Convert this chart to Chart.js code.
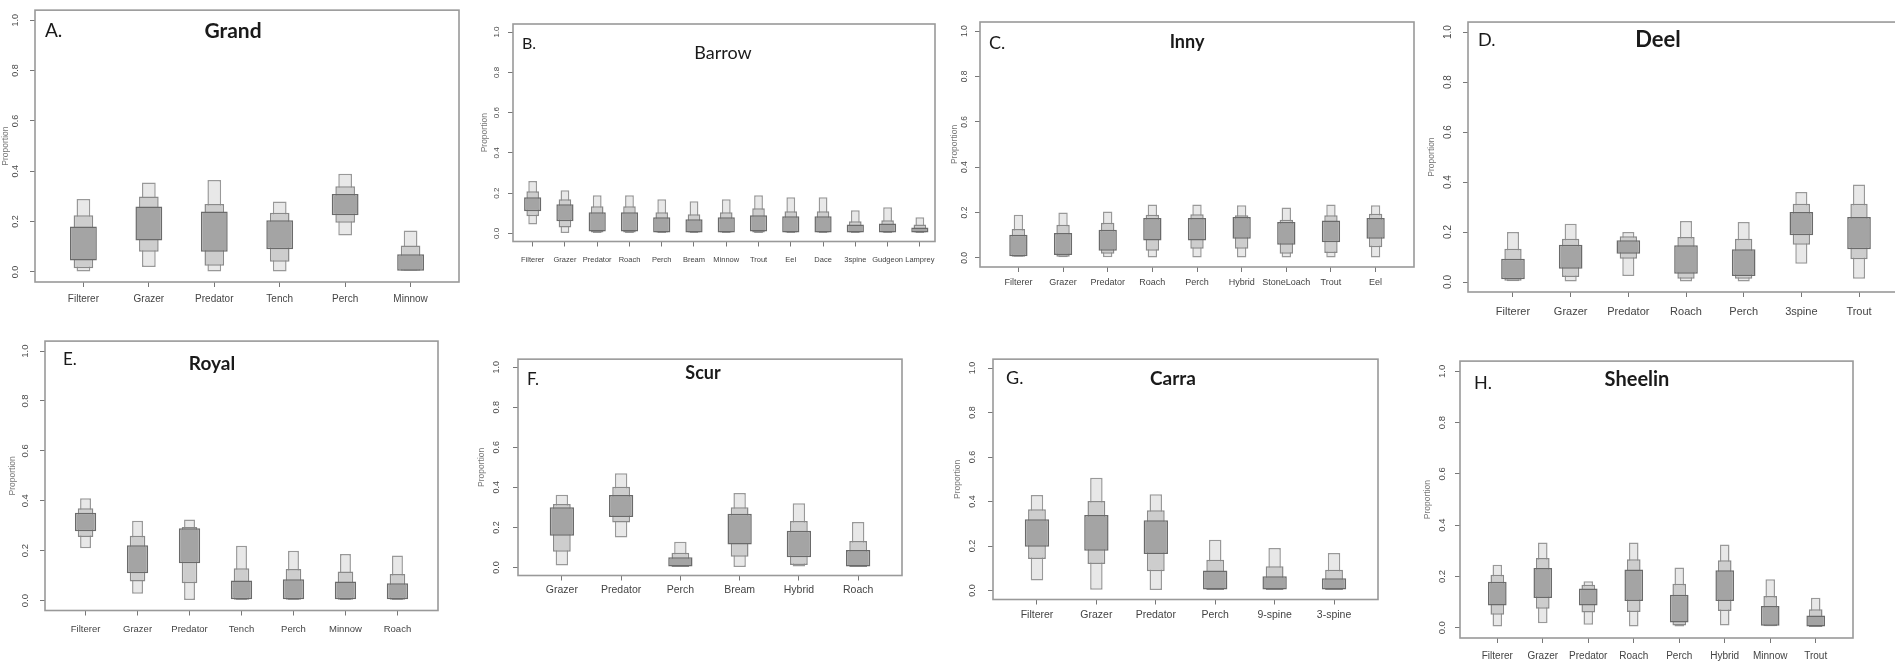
<!DOCTYPE html>
<html lang="en">
<head>
<meta charset="UTF-8">
<title>Diet proportions by lake</title>
<script src="https://cdn.jsdelivr.net/npm/chart.js"></script>
<style>
  body { margin: 0; width: 1895px; height: 662px; overflow: hidden; background: #fff; position: relative; }
  canvas { position: absolute; }
  .tag, .name { position: absolute; font-family: Lato, "Open Sans", sans-serif; color: #1a1a1a; line-height: 1; white-space: nowrap; }
  .tag { transform: translateY(-50%); }
  .name { transform: translate(-50%, -50%); font-weight: bold; }
</style>
</head>
<body>
<script>
// proportions, [low, high] of the 95%, 75% and 50% credible intervals
const grandCats = ['Filterer', 'Grazer', 'Predator', 'Tench', 'Perch', 'Minnow'];
const grand95 = [[0.0, 0.29], [0.02, 0.355], [0.0, 0.365], [0.0, 0.28], [0.145, 0.39], [0.005, 0.165]];
const grand75 = [[0.015, 0.225], [0.08, 0.3], [0.025, 0.27], [0.04, 0.235], [0.195, 0.34], [0.005, 0.105]];
const grand50 = [[0.045, 0.18], [0.125, 0.26], [0.08, 0.24], [0.09, 0.205], [0.225, 0.31], [0.005, 0.07]];

const barrowCats = ['Filterer', 'Grazer', 'Predator', 'Roach', 'Perch', 'Bream', 'Minnow', 'Trout', 'Eel', 'Dace', '3spine', 'Gudgeon', 'Lamprey'];
const barrow95 = [[0.045, 0.26], [0.0, 0.215], [0, 0.19], [0, 0.19], [0, 0.17], [0, 0.16], [0, 0.17], [0, 0.19], [0, 0.18], [0, 0.18], [0, 0.115], [0, 0.13], [0, 0.08]];
const barrow75 = [[0.085, 0.21], [0.03, 0.17], [0.005, 0.135], [0.005, 0.135], [0.005, 0.105], [0.005, 0.095], [0.005, 0.105], [0.005, 0.125], [0.005, 0.11], [0.005, 0.11], [0.005, 0.06], [0.005, 0.065], [0.005, 0.045]];
const barrow50 = [[0.11, 0.18], [0.06, 0.145], [0.01, 0.105], [0.01, 0.105], [0.005, 0.08], [0.005, 0.07], [0.005, 0.08], [0.01, 0.09], [0.005, 0.085], [0.005, 0.085], [0.005, 0.045], [0.005, 0.05], [0.005, 0.03]];

const innyCats = ['Filterer', 'Grazer', 'Predator', 'Roach', 'Perch', 'Hybrid', 'StoneLoach', 'Trout', 'Eel'];
const inny95 = [[0.005, 0.19], [0.003, 0.2], [0.003, 0.205], [0, 0.235], [0, 0.235], [0, 0.232], [0, 0.222], [0, 0.235], [0, 0.232]];
const inny75 = [[0.005, 0.128], [0.005, 0.146], [0.018, 0.155], [0.032, 0.19], [0.04, 0.193], [0.04, 0.188], [0.018, 0.168], [0.022, 0.188], [0.047, 0.195]];
const inny50 = [[0.007, 0.102], [0.013, 0.11], [0.032, 0.124], [0.077, 0.176], [0.077, 0.176], [0.084, 0.18], [0.058, 0.158], [0.069, 0.165], [0.084, 0.176]];

const deelCats = ['Filterer', 'Grazer', 'Predator', 'Roach', 'Perch', '3spine', 'Trout'];
const deel95 = [[0.003, 0.2], [0, 0.233], [0.024, 0.2], [0, 0.244], [0, 0.24], [0.073, 0.36], [0.013, 0.39]];
const deel75 = [[0.005, 0.133], [0.02, 0.173], [0.093, 0.183], [0.013, 0.18], [0.013, 0.173], [0.149, 0.313], [0.091, 0.313]];
const deel50 = [[0.011, 0.093], [0.053, 0.149], [0.113, 0.167], [0.033, 0.147], [0.024, 0.131], [0.187, 0.28], [0.131, 0.26]];

const royalCats = ['Filterer', 'Grazer', 'Predator', 'Tench', 'Perch', 'Minnow', 'Roach'];
const royal95 = [[0.21, 0.41], [0.027, 0.32], [0, 0.325], [0, 0.22], [0, 0.2], [0, 0.186], [0, 0.18]];
const royal75 = [[0.255, 0.37], [0.076, 0.26], [0.069, 0.295], [0.003, 0.129], [0.003, 0.126], [0.003, 0.116], [0.003, 0.106]];
const royal50 = [[0.278, 0.352], [0.109, 0.222], [0.149, 0.29], [0.005, 0.08], [0.005, 0.085], [0.005, 0.076], [0.005, 0.069]];

const scurCats = ['Grazer', 'Predator', 'Perch', 'Bream', 'Hybrid', 'Roach'];
const scur95 = [[0.01, 0.363], [0.15, 0.47], [0, 0.128], [0, 0.372], [0.005, 0.321], [0, 0.227]];
const scur75 = [[0.079, 0.317], [0.224, 0.403], [0.003, 0.074], [0.054, 0.301], [0.013, 0.232], [0.003, 0.132]];
const scur50 = [[0.158, 0.301], [0.252, 0.362], [0.005, 0.051], [0.115, 0.268], [0.051, 0.184], [0.005, 0.087]];

const carraCats = ['Filterer', 'Grazer', 'Predator', 'Perch', '9-spine', '3-spine'];
const carra95 = [[0.045, 0.43], [0.004, 0.507], [0, 0.433], [0, 0.228], [0, 0.191], [0, 0.169]];
const carra75 = [[0.142, 0.366], [0.119, 0.403], [0.087, 0.361], [0.003, 0.139], [0.003, 0.109], [0.003, 0.094]];
const carra50 = [[0.197, 0.321], [0.179, 0.34], [0.164, 0.316], [0.005, 0.09], [0.005, 0.064], [0.005, 0.055]];

const sheelinCats = ['Filterer', 'Grazer', 'Predator', 'Roach', 'Perch', 'Hybrid', 'Minnow', 'Trout'];
const sheelin95 = [[0.005, 0.246], [0.018, 0.332], [0.012, 0.181], [0.005, 0.332], [0.005, 0.235], [0.009, 0.325], [0.006, 0.189], [0.003, 0.117]];
const sheelin75 = [[0.051, 0.207], [0.074, 0.272], [0.059, 0.168], [0.061, 0.267], [0.009, 0.172], [0.065, 0.263], [0.006, 0.124], [0.003, 0.072]];
const sheelin50 = [[0.087, 0.179], [0.116, 0.233], [0.087, 0.153], [0.104, 0.227], [0.02, 0.129], [0.104, 0.224], [0.008, 0.085], [0.005, 0.048]];

const yTicks = [0, 0.2, 0.4, 0.6, 0.8, 1.0];

// layout of each panel: plot box [left, top, right, bottom] and label offsets
const panels = [
  { tag: 'A.', name: 'Grand', cats: grandCats, q95: grand95, q75: grand75, q50: grand50,
    box: [35, 9, 459, 282], yLab: 19, pLab: 29, xLab: 17, xFont: 10, yFont: 9,
    tagAt: [45, 29], tagSize: 19, nameAt: [233, 29], nameSize: 21 },
  { tag: 'B.', name: 'Barrow', cats: barrowCats, q95: barrow95, q75: barrow75, q50: barrow50,
    box: [513, 24, 935, 242], yLab: 16, pLab: 28, xLab: 18, xFont: 7.5, yFont: 8,
    xMin: 0.39, xMax: 13.47, boxScale: 1.3, nameWeight: 'normal',
    tagAt: [522, 43], tagSize: 16, nameAt: [723, 52], nameSize: 18 },
  { tag: 'C.', name: 'Inny', cats: innyCats, q95: inny95, q75: inny75, q50: inny50,
    box: [980, 22, 1414, 267], yLab: 15, pLab: 25, xLab: 16, xFont: 9, yFont: 8.5,
    tagAt: [989, 42], tagSize: 18, nameAt: [1187, 41], nameSize: 18 },
  { tag: 'D.', name: 'Deel', cats: deelCats, q95: deel95, q75: deel75, q50: deel50,
    box: [1468, 20, 1904, 292], yLab: 20, pLab: 36, xLab: 20, xFont: 11, yFont: 10,
    tagAt: [1478, 39], tagSize: 18, nameAt: [1658, 39], nameSize: 22 },
  { tag: 'E.', name: 'Royal', cats: royalCats, q95: royal95, q75: royal75, q50: royal50,
    box: [45, 339, 438, 611], yLab: 20, pLab: 32, xLab: 19, xFont: 9.5, yFont: 9.5,
    tagAt: [63, 358], tagSize: 17, nameAt: [212, 362], nameSize: 19 },
  { tag: 'F.', name: 'Scur', cats: scurCats, q95: scur95, q75: scur75, q50: scur50,
    box: [518, 356, 902, 576], yLab: 21, pLab: 36, xLab: 15, xFont: 10.5, yFont: 9,
    tagAt: [527, 378], tagSize: 17, nameAt: [703, 372], nameSize: 18 },
  { tag: 'G.', name: 'Carra', cats: carraCats, q95: carra95, q75: carra75, q50: carra50,
    box: [993, 357, 1378, 600], yLab: 20, pLab: 35, xLab: 16, xFont: 10.5, yFont: 9,
    tagAt: [1006, 377], tagSize: 18, nameAt: [1173, 377], nameSize: 19 },
  { tag: 'H.', name: 'Sheelin', cats: sheelinCats, q95: sheelin95, q75: sheelin75, q50: sheelin50,
    box: [1460, 361, 1853, 638], yLab: 18, pLab: 32, xLab: 18, xFont: 10, yFont: 9.5,
    tagAt: [1474, 382], tagSize: 18, nameAt: [1637, 378], nameSize: 20 }
];

const frame = {
  id: 'frame',
  afterDraw(chart) {
    const { ctx, chartArea: a } = chart;
    ctx.save();
    ctx.strokeStyle = '#999';
    ctx.lineWidth = 1.6;
    ctx.strokeRect(a.left, a.top, a.right - a.left, a.bottom - a.top);
    ctx.restore();
  }
};

const meas = document.createElement('canvas').getContext('2d');
function textWidth(str, size) {
  meas.font = size + 'px "Liberation Sans"';
  return meas.measureText(str).width;
}

function drawPanel(p) {
  const n = p.cats.length;
  const [L, T, R, B] = p.box;
  const padTop = 12, padRight = 12, tl = 5;
  const W = p.pLab + 10;
  const H = p.xLab + p.xFont + 6;
  const xs = p.cats.map((c, k) => k + 1);
  const k = p.boxScale || 1;

  const canvas = document.createElement('canvas');
  canvas.width = R - L + W + padRight;
  canvas.height = B - T + H + padTop;
  canvas.style.left = (L - W) + 'px';
  canvas.style.top = (T - padTop) + 'px';
  document.body.appendChild(canvas);

  const box = (label, vals, fill, edge, width) => ({
    label: label,
    data: vals.map((v, i) => ({ x: xs[i], y: v })),
    backgroundColor: fill,
    borderColor: edge,
    borderWidth: 1.5,
    borderSkipped: false,
    barPercentage: width * k,
    categoryPercentage: 1,
    grouped: false
  });

  const yPad = p.yLab - tl - textWidth('0.0', p.yFont) / 2;
  const pTitle = 8.5;

  new Chart(canvas, {
    type: 'bar',
    data: {
      datasets: [
        box('50%', p.q50, '#a4a4a4', '#6a6a6a', 0.41),
        box('75%', p.q75, '#cdcdcd', '#8a8a8a', 0.3),
        box('95%', p.q95, '#e8e8e8', '#999', 0.21)
      ]
    },
    options: {
      responsive: false,
      animation: false,
      devicePixelRatio: 1,
      layout: { padding: { top: padTop, right: padRight, left: 0, bottom: 0 } },
      plugins: { legend: { display: false }, tooltip: { enabled: false } },
      scales: {
        x: {
          type: 'linear',
          min: p.xMin !== undefined ? p.xMin : 0.5 - 0.04 * n,
          max: p.xMax !== undefined ? p.xMax : n + 0.5 + 0.04 * n,
          offset: false,
          afterBuildTicks: s => { s.ticks = xs.map(v => ({ value: v })); },
          afterFit: s => { s.height = H; },
          border: { display: false },
          grid: { offset: false, drawOnChartArea: false, drawTicks: true, tickLength: tl, tickColor: '#777', lineWidth: 1 },
          ticks: {
            autoSkip: false, minRotation: 0, maxRotation: 0,
            padding: p.xLab - tl - 0.6 * p.xFont,
            color: '#444',
            font: { family: '"Liberation Sans", Arial, sans-serif', size: p.xFont },
            callback: v => p.cats[Math.round(v) - 1]
          }
        },
        y: {
          type: 'linear',
          min: -0.04,
          max: 1.04,
          afterBuildTicks: s => { s.ticks = yTicks.map(v => ({ value: v })); },
          afterFit: s => { s.width = W; },
          border: { display: false },
          grid: { drawOnChartArea: false, drawTicks: true, tickLength: tl, tickColor: '#777', lineWidth: 1 },
          title: {
            display: true,
            text: 'Proportion',
            color: '#777',
            font: { family: '"Liberation Sans", Arial, sans-serif', size: pTitle },
            padding: { top: W - p.pLab - pTitle * 0.6, bottom: 0 }
          },
          ticks: {
            minRotation: 90, maxRotation: 90,
            crossAlign: 'center',
            padding: yPad,
            color: '#4a4a4a',
            font: { family: '"Liberation Sans", Arial, sans-serif', size: p.yFont },
            callback: v => v.toFixed(1)
          }
        }
      }
    },
    plugins: [frame]
  });

  const tag = document.createElement('div');
  tag.className = 'tag';
  tag.textContent = p.tag;
  tag.style.left = p.tagAt[0] + 'px';
  tag.style.top = p.tagAt[1] + 'px';
  tag.style.fontSize = p.tagSize + 'px';
  document.body.appendChild(tag);

  const name = document.createElement('div');
  name.className = 'name';
  name.textContent = p.name;
  name.style.left = p.nameAt[0] + 'px';
  name.style.top = p.nameAt[1] + 'px';
  name.style.fontSize = p.nameSize + 'px';
  if (p.nameWeight) name.style.fontWeight = p.nameWeight;
  document.body.appendChild(name);
}

panels.forEach(drawPanel);
</script>
</body>
</html>
